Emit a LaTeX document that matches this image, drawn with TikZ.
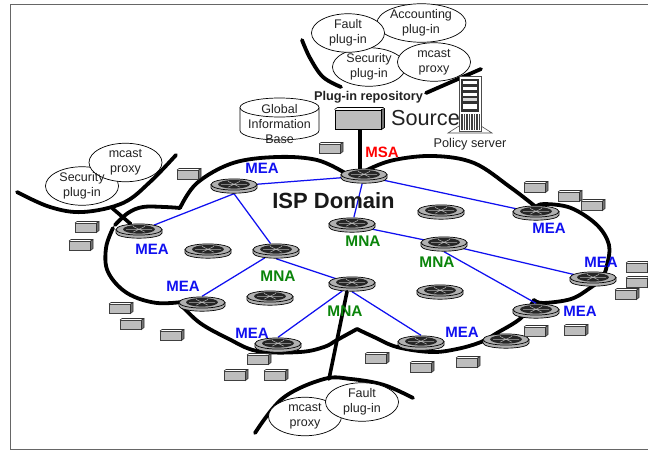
\documentclass[tikz,border=0pt]{standalone}
\usepackage{fontspec}
\setmainfont{Liberation Sans}
\usetikzlibrary{backgrounds,shapes.geometric}
\definecolor{boxgray}{HTML}{BDBDBD}
\definecolor{rgray}{HTML}{B0B0B0}
\definecolor{meablue}{HTML}{1010F0}
\definecolor{mnagreen}{HTML}{0A840A}
\definecolor{txtgray}{HTML}{222222}
\tikzset{
  cloudline/.style={line width=3.8pt,line cap=round,line join=round,black},
  feed/.style={line width=3.6pt,black,line cap=round},
  link/.style={line width=1.25pt,meablue},
  routernode/.style={ellipse,minimum width=46pt,minimum height=15pt,inner sep=0pt},
  plug/.style={ellipse,draw=black,fill=white,line width=0.7pt,minimum width=73pt,minimum height=38.5pt,inner sep=0pt},
  plugtext/.style={font=\fontsize{12.5}{15.2}\selectfont,align=center,text=txtgray,inner sep=0pt},
  mea/.style={font=\fontsize{15}{15}\bfseries\selectfont,text=meablue,inner sep=0pt},
  mna/.style={font=\fontsize{15.4}{15}\bfseries\selectfont,text=mnagreen,inner sep=0pt},
  msa/.style={font=\fontsize{15}{15}\bfseries\selectfont,text=red,inner sep=0pt},
  smallbox/.pic={
    \fill[boxgray,draw=black!75,line width=1pt] (-12,-4) rectangle (9.5,5.5);
    \fill[black!55,draw=black!80,line width=.6pt] (9.5,5.5) -- (12,3.5) -- (12,-5.5) -- (9.5,-4) -- cycle;
    \draw[black!80,line width=.6pt] (-12,-4) -- (-10,-5.5) -- (12,-5.5);
  }
}
\newcommand{\router}[3]{%
  \node[routernode] (#1) at (#2,#3) {};
  \begin{scope}[shift={(#2,#3)}]
    \fill[rgray,draw=black,line width=.7pt] (-23,-1.5) -- (-23,2) arc[start angle=180,end angle=0,x radius=23,y radius=5.2] -- (23,-1.5) -- cycle;
    \fill[rgray,draw=black,line width=.7pt] (0,-1.5) ellipse[x radius=23,y radius=5.6];
    \fill[black!85] (0,-1.7) ellipse[x radius=16,y radius=4.3];
    \draw[rgray,line width=.5pt] (-13,-1.7) -- (13,-1.7) (-6,-4.6) -- (6,1.2) (6,-4.6) -- (-6,1.2);
    \fill[white!75!black] (0,-1.7) ellipse[x radius=1.2,y radius=.6];
  \end{scope}}
\begin{document}
\begin{tikzpicture}[x=1pt,y=-1pt]
\useasboundingbox (0,0) rectangle (648,450);
\clip (0,0) rectangle (648,450);

% routers
\router{rtop}{234}{186}
\router{rmsa}{364}{176}
\router{rright}{536}{213}
\router{rmid}{441}{212}
\router{rmna}{352}{225}
\router{rleft}{139}{231}
\router{rblank}{208}{251}
\router{rmnb}{276}{251}
\router{rwest}{202}{304}
\router{rblankb}{270}{298}
\router{rsouth}{278}{345}
\router{rcore}{352}{284}
\router{rmnc}{444}{244}
\router{rblankc}{440}{292}
\router{rsb}{421}{343}
\router{rsc}{506}{341}
\router{rse}{536}{311}
\router{reast}{593}{279}

% small boxes
\foreach \bx/\by in {189/174,331/148,536/187,570/196,593/205,87/227,81/245,121/308,132/324,172/335,259/359,236/375,276/375,377/358,422/367,468/362,536/331,576/330,627/294,638/282,638/267}
  \pic at (\bx,\by) {smallbox};

% source box
\node[draw=black,fill=boxgray,line width=1pt,minimum width=46pt,minimum height=19pt,inner sep=0pt] (src) at (358,119.5) {};
\fill[black!55,draw=black,line width=.6pt] (src.south east) -- ++(3,-2) -- ++(0,-19) -- (src.north east) -- cycle;
\draw[black,line width=.6pt] (src.north west) -- ++(3,-2) -- ++(46,0);

\begin{pgfonlayer}{background}
  \fill[white] (0,0) rectangle (648,450);
  \draw[black!60,line width=.8pt] (648,4) -- (10,4) -- (10,449) -- (648,449);
  % cloud
  \draw[cloudline] plot[smooth,tension=.6] coordinates {(180,208) (197,183) (233,163) (277,157) (317,160) (345,173)};
  \draw[cloudline] plot[smooth,tension=.6] coordinates {(358,177) (367,170) (394,160) (434,156) (474,163) (510,187) (536,207)};
  \draw[cloudline] plot[smooth,tension=.6] coordinates {(536,207) (544,204) (571,208) (597,225) (609,245) (607,265) (602,278) (590,288) (571,299) (543,303) (534,300)};
  \draw[cloudline] plot[smooth,tension=.6] coordinates {(534,300) (521,318) (497,333) (481,342) (457,349) (431,352) (397,347) (374,337) (357,329)};
  \draw[cloudline] plot[smooth,tension=.6] coordinates {(357,329) (337,340) (324,347) (300,352) (257,351) (227,338) (200,323) (182,306)};
  \draw[cloudline] plot[smooth,tension=.6] coordinates {(190,301) (157,303) (127,293) (108,272) (106,248) (113,228)};
  \draw[cloudline] plot[smooth,tension=.6] coordinates {(115,225) (128,213) (143,207) (165,207) (180,208)};
  % arcs
  \draw[cloudline] plot[smooth,tension=.6] coordinates {(17,192) (50,207) (83,212) (123,203) (150,182) (176,155)};
  \draw[cloudline] plot[smooth,tension=.6] coordinates {(302,40) (310,58) (323,77) (341,87)};
  \draw[cloudline] (426,93) -- (481,69);
  \draw[cloudline] plot[smooth,tension=.6] coordinates {(255,433) (283,398) (324,379) (351,379) (384,385) (413,398)};
  % links
  \draw[link] (rtop) -- (rmsa);
  \draw[link] (rmsa) -- (rmna);
  \draw[link] (rmsa) -- (rright);
  \draw[link] (rtop.south) -- (rleft);
  \draw[link] (rtop.south) -- (rmnb);
  \draw[link] (rmnb) -- (rwest.north);
  \draw[link] (rmnb.south) -- (rcore);
  \draw[link] (rsouth.north) -- (rcore);
  \draw[link] (rcore.south) -- (rsb.north);
  \draw[link] (rmna) -- (rmnc);
  \draw[link] (rmnc) -- (reast);
  \draw[link] (rmnc.south) -- (rse.north);
  % feeds
  \coordinate (lefttap) at (112,208);
  \draw[feed] (lefttap) -- (rleft);
  \draw[feed] ([xshift=2pt]src.south) -- ([xshift=-4pt]rmsa.north);
  \coordinate (bottap) at (329,379);
\end{pgfonlayer}
\draw[feed] (bottap) -- ([xshift=-5pt]rcore.south);

% plug-in ellipses
\node[plug,minimum width=89pt] (accp) at (421.5,23) {};
\node[plug] (secp) at (369,67) {};
\node[plug] (mcp) at (434,62) {};
\node[plug] (fltp) at (348,33) {};
\node[plug] (secl) at (82,186) {};
\node[plug] (mcl) at (125.5,162.5) {};
\node[plug] (mcb) at (305,416.5) {};
\node[plug] (fltb) at (362,402) {};

\node[plugtext] (t1) at (348,33) {Fault\\plug-in};
\node[plugtext] (t2) at (421,23) {Accounting\\plug-in};
\node[plugtext] (t3) at (369,67) {Security\\plug-in};
\node[plugtext] (t4) at (434,62) {mcast\\proxy};
\node[plugtext] (t5) at (82,186) {Security\\plug-in};
\node[plugtext] (t6) at (125.5,162.5) {mcast\\proxy};
\node[plugtext] (t7) at (305,416.5) {mcast\\proxy};
\node[plugtext] (t8) at (362,402) {Fault\\plug-in};

% database
\draw[black,fill=white,line width=.7pt] (240,107.5) -- (240,130.5) arc[start angle=180,end angle=0,x radius=39.5,y radius=9.5] -- (319,107.5);
\draw[black,fill=white,line width=.7pt] (279.5,107.5) ellipse[x radius=39.5,y radius=9.5];
\node[plugtext] (gib) at (279.5,124) {Global\\Information\\Base};

% server
\begin{scope}
  \fill[white,draw=black!70,line width=.6pt] (448,133) -- (459,126) -- (481,126) -- (492,133) -- cycle;
  \fill[white,draw=black!70,line width=.8pt] (459,76) rectangle (481,131);
  \fill[black!80] (461,79) rectangle (479,112);
  \fill[white] (463,80.5) rectangle (477,83.5);
  \fill[white] (463,86.5) rectangle (477,90);
  \fill[white] (463,92.5) rectangle (477,95.5);
  \fill[black!15] (463,98) rectangle (477,101);
  \fill[white] (463,103.5) rectangle (477,109);
  \foreach \sx in {461,463.5,466,468.5,471,473.5,476,478.5}
    \fill[black!75] (\sx,114) rectangle ++(1.5,16);
\end{scope}

% labels
\node[font=\fontsize{22}{24}\bfseries\selectfont,inner sep=0pt,text=black!90] (isp) at (333.5,201) {ISP Domain};
\node[font=\fontsize{12.7}{14}\bfseries\selectfont,inner sep=0pt,text=txtgray] (repo) at (368.5,97.5) {Plug-in repository};
\node[font=\fontsize{21.7}{24}\selectfont,inner sep=0pt,text=txtgray] (srcl) at (425.5,118) {Source};
\node[font=\fontsize{12.7}{14}\selectfont,inner sep=0pt,text=txtgray] (pol) at (470,144) {Policy server};
\node[msa] (lmsa) at (382,152) {MSA};
\node[mea] (m1) at (262,168) {MEA};
\node[mea] (m2) at (152,249) {MEA};
\node[mea] (m3) at (183,286) {MEA};
\node[mea] (m4) at (252,333) {MEA};
\node[mea] (m5) at (462,332) {MEA};
\node[mea] (m6) at (580,311) {MEA};
\node[mea] (m7) at (601,262) {MEA};
\node[mea] (m8) at (549,228) {MEA};
\node[mna] (n1) at (363,241) {MNA};
\node[mna] (n2) at (437,262) {MNA};
\node[mna] (n3) at (345,311) {MNA};
\node[mna] (n4) at (278,276) {MNA};
\end{tikzpicture}
\end{document}
